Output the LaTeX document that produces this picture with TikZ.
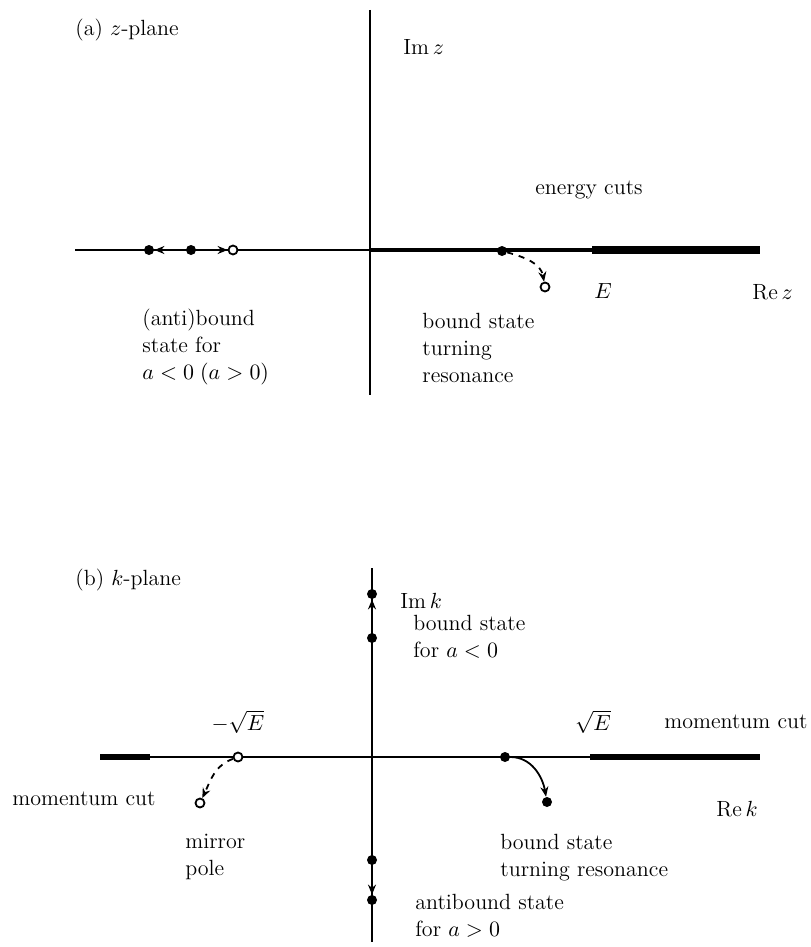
\documentclass[tikz,border=0pt]{standalone}
\usetikzlibrary{arrows.meta}
\begin{document}
\begin{tikzpicture}[x=0.5pt,y=-0.5pt,
  font=\fontsize{11}{13.5}\selectfont,
  axis/.style={line width=1pt},
  cut/.style={line width=2.6pt},
  pole/.style={circle,fill,inner sep=0pt,minimum size=5pt},
  mirror/.style={circle,draw,fill=white,line width=0.9pt,inner sep=0pt,minimum size=4.5pt},
  lbl/.style={anchor=west,align=left,inner sep=0pt},
  move/.style={line width=0.9pt,-{Stealth[length=5pt,width=4pt]}}]
\useasboundingbox (0,0) rectangle (810,947);

% (a) z-plane
\draw[axis] (75,250) -- (760,250);
\draw[line width=2.2pt] (370,250) -- (592,250);
\draw[line width=3.6pt] (592,250) -- (760,250);
\draw[line width=1.3pt] (370,10) -- (370,395);

\node[pole] (za) at (149,250) {};
\node[pole] (zb) at (191,250) {};
\node[mirror] (zc) at (233,250) {};
\draw[move] (zb) -- (za);
\draw[move,dashed] (zb) -- (zc);

\node[pole] (zd) at (502,251) {};
\node[mirror] (ze) at (545,287) {};
\draw[move,dashed] (zd) to[out=-15,in=100] (ze);

\node[lbl] (ztitle) at (75,30) {(a) $z$-plane};
\node[lbl] (zim) at (403,47) {Im\,$z$};
\node[lbl] (zcuts) at (535,190) {energy cuts};
\node[lbl] (zE) at (594,291) {$E$};
\node[lbl] (zre) at (752,292) {Re\,$z$};
\node[lbl] (zanti) at (142,347) {(anti)bound\\state for\\$a<0\;(a>0)$};
\node[lbl] (zturn) at (422,348) {bound state\\turning\\resonance};

% (b) k-plane
\draw[axis] (100,757) -- (760,757);
\draw[cut] (100,757) -- (150,757);
\draw[cut] (590,757) -- (760,757);
\draw[line width=1.3pt] (372,568) -- (372,942);

\node[pole] (ka) at (372,594) {};
\node[pole] (kb) at (372,638) {};
\draw[move] (kb) -- (ka);
\node[pole] (kc) at (372,860) {};
\node[pole] (kd) at (372,900) {};
\draw[move] (kc) -- (kd);

\node[mirror] (ke) at (238,757) {};
\node[mirror] (kf) at (200,803) {};
\draw[move,dashed] (ke) to[out=200,in=65] (kf);

\node[pole] (kg) at (505,757) {};
\node[pole] (kh) at (547,802) {};
\draw[move] (kg) to[out=0,in=100] (kh);

\node[lbl] (ktitle) at (75,580) {(b) $k$-plane};
\node[lbl] (kim) at (400,601) {Im\,$k$};
\node[lbl] (kbound) at (413,637) {bound state\\for $a<0$};
\node[anchor=center] (kminus) at (238,722) {$-\sqrt{E}$};
\node[anchor=center] (kplus) at (593,722) {$\sqrt{E}$};
\node[lbl] (kcutr) at (664,722) {momentum cut};
\node[lbl] (kcutl) at (12,799) {momentum cut};
\node[lbl] (kre) at (716,809) {Re\,$k$};
\node[lbl] (kmirror) at (185,857) {mirror\\pole};
\node[lbl] (kturn) at (500,858) {bound state\\turning resonance};
\node[lbl] (kanti) at (415,916) {antibound state\\for $a>0$};
\end{tikzpicture}
\end{document}
